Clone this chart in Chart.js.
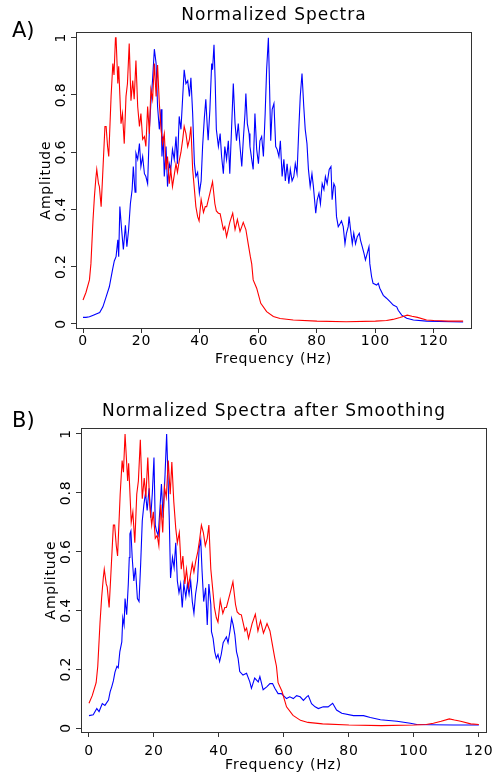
<!DOCTYPE html>
<html><head><meta charset="utf-8">
<script src="https://cdn.jsdelivr.net/npm/chart.js@4"></script>
<style>
html,body{margin:0;padding:0;background:#fff;}
#wrap{position:relative;width:496px;height:774px;overflow:hidden;background:#fff;}
.pane{position:absolute;left:0;width:496px;height:387px;}
</style></head><body>
<div id="wrap">
<div class="pane" style="top:0"><canvas id="cA" width="496" height="387"></canvas></div>
<div class="pane" style="top:387px"><canvas id="cB" width="496" height="387"></canvas></div>
</div>
<script>
// ---- data ----
const xTickValues = [0, 20, 40, 60, 80, 100, 120];
const yTickValues = [0, 0.2, 0.4, 0.6, 0.8, 1];

const redFreq = [0,1,2.2,2.7,3.4,3.9,4.4,4.7,5.3,5.6,6.2,6.7,7.5,7.9,8.4,8.8,9.6,10.2,10.6,11.1,11.3,11.9,12.2,12.6,13,13.5,14.1,14.7,15.2,15.8,16.4,17,17.5,18.1,18.7,19.3,19.8,20.4,21,21.5,22.1,22.7,23.2,23.8,24.4,25,25.5,26.1,26.7,27.2,27.8,28.4,28.9,29.5,30,30.6,31.2,31.8,32.3,32.9,33.5,34.1,34.6,35.2,35.8,36.4,36.9,37.5,38.1,38.6,39.2,39.7,40.4,41.2,41.8,42.3,43.4,44.3,45.1,45.6,46.3,46.9,47.4,48,48.5,49.1,50.2,51.2,52,52.8,53.7,54.3,54.8,55.7,56.5,57.2,57.7,58.2,59.4,60.8,62.8,65.1,67.4,71.9,80,90,100,103.8,106,108.4,110.9,112.5,114.4,117.5,120,125,130];
const redAmp = [0.084,0.11,0.154,0.21,0.36,0.445,0.51,0.54,0.49,0.48,0.41,0.515,0.69,0.69,0.62,0.585,0.795,0.91,0.87,1.0,1.0,0.84,0.90,0.80,0.70,0.735,0.63,0.795,0.84,0.98,0.78,0.85,0.785,0.92,0.76,0.69,0.735,0.645,0.655,0.62,0.76,0.665,0.82,0.785,0.91,0.795,0.905,0.77,0.68,0.63,0.665,0.54,0.585,0.49,0.54,0.48,0.52,0.56,0.53,0.57,0.60,0.645,0.69,0.665,0.62,0.645,0.69,0.54,0.47,0.41,0.375,0.36,0.435,0.39,0.41,0.41,0.457,0.497,0.42,0.395,0.387,0.385,0.36,0.33,0.34,0.305,0.355,0.387,0.33,0.365,0.323,0.34,0.355,0.33,0.28,0.237,0.21,0.154,0.125,0.072,0.043,0.026,0.019,0.014,0.01,0.008,0.01,0.012,0.016,0.023,0.031,0.027,0.023,0.014,0.012,0.01,0.01];

const blueAFreq = [0,1,2.2,3.3,4.5,5.7,6.8,7.9,9,10.1,10.7,11.3,11.9,12.2,12.6,13.2,13.8,14.5,15,15.6,16.2,16.8,17.2,17.8,18.1,18.7,19.3,19.8,20.4,21,21.5,22.1,22.7,23.2,23.8,24.4,25,25.5,26.1,26.7,27,27.4,27.8,28.4,28.9,29.5,30,30.6,31.2,31.8,32.3,32.9,33.5,34.1,34.6,35.2,35.8,36.4,36.9,37.5,38.1,38.6,39.2,39.8,40.4,40.9,41.5,42,42.5,42.8,43.4,44,44.3,44.8,45.2,45.6,46.3,46.9,47.4,48,48.5,49.1,49.7,50.2,50.8,51.4,52,52.5,53.1,53.7,54.3,54.8,55.4,55.7,56.2,56.8,57.1,57.7,58.2,58.8,59.4,60,60.5,61.1,61.7,62.3,62.8,63.4,63.7,64.2,64.7,65.3,65.9,66.4,67,67.5,68.1,68.7,69.2,69.8,70.4,70.9,71.5,72.1,72.6,73.2,73.8,74.3,74.9,75.5,76,76.6,77.1,77.7,78.3,78.8,79.6,80.1,80.7,81.2,81.8,82.4,82.9,83.5,84.2,84.8,85.2,85.8,86.2,86.7,87.3,87.9,88.4,89,89.6,90.1,90.7,91,91.5,92.1,92.6,93.2,93.8,94.5,94.9,95.5,96.1,96.6,97.2,97.8,98.1,98.7,99.2,100.4,101,101.5,102.7,103.8,105,106.1,107.3,107.8,109,110.7,113,117.5,130];
const blueAAmp = [0.023,0.023,0.025,0.03,0.035,0.04,0.06,0.095,0.13,0.19,0.22,0.235,0.294,0.235,0.41,0.33,0.26,0.345,0.27,0.33,0.42,0.47,0.55,0.46,0.597,0.575,0.63,0.55,0.585,0.525,0.515,0.49,0.68,0.77,0.855,0.96,0.91,0.76,0.68,0.75,0.585,0.655,0.515,0.62,0.48,0.56,0.54,0.61,0.575,0.655,0.56,0.725,0.68,0.795,0.888,0.84,0.85,0.795,0.86,0.735,0.56,0.515,0.53,0.457,0.50,0.62,0.72,0.785,0.69,0.642,0.75,0.91,0.888,0.975,0.85,0.68,0.62,0.665,0.585,0.525,0.62,0.575,0.64,0.525,0.68,0.84,0.70,0.64,0.70,0.62,0.55,0.64,0.735,0.805,0.70,0.665,0.62,0.575,0.54,0.735,0.61,0.56,0.64,0.655,0.585,0.735,0.888,1.0,0.875,0.64,0.75,0.77,0.62,0.61,0.585,0.64,0.515,0.575,0.50,0.56,0.49,0.54,0.50,0.515,0.56,0.525,0.68,0.795,0.875,0.76,0.68,0.63,0.54,0.48,0.525,0.48,0.387,0.434,0.457,0.42,0.49,0.47,0.515,0.49,0.54,0.55,0.434,0.49,0.48,0.375,0.34,0.35,0.36,0.34,0.28,0.317,0.34,0.375,0.33,0.28,0.317,0.28,0.305,0.317,0.293,0.27,0.247,0.224,0.247,0.27,0.21,0.165,0.142,0.136,0.142,0.125,0.1,0.09,0.078,0.066,0.06,0.048,0.031,0.02,0.014,0.01,0.007];

const blueBFreq = [0,1.3,2.4,3.1,4.1,4.9,6,6.5,7,7.5,8,8.6,9,9.5,10.1,10.4,10.8,11.1,11.6,12.1,12.4,12.6,12.9,13.3,13.8,14.3,14.9,15.4,15.9,16.4,16.9,17.4,17.9,18.5,19,19.5,20,20.4,20.8,21.3,21.8,22.3,22.8,23.4,23.9,24.3,24.7,25.1,25.7,26.2,26.7,27.2,27.7,28.2,28.7,29.2,29.8,30.3,30.8,31.3,31.8,32.3,32.8,33.4,33.9,34.4,34.8,35.3,35.9,36.4,36.9,37.5,37.7,38.2,38.7,39.2,39.7,40.2,40.7,41.3,41.8,42.3,42.8,43.4,43.9,44.4,44.9,45.4,45.9,46.4,47.4,48.5,49.5,50,51,52.1,52.6,53.6,54.7,55.7,56.5,57.2,58.2,59.2,60.8,61.8,62.9,63.9,65,66,67,67.5,68.5,69.6,70.6,72.1,73.6,75,76.2,77.8,81.4,84.5,86.6,89.7,94.8,98.9,100.9,105,112.2,120];
const blueBAmp = [0.042,0.045,0.066,0.056,0.083,0.077,0.095,0.123,0.14,0.16,0.19,0.21,0.205,0.26,0.293,0.375,0.35,0.44,0.385,0.49,0.58,0.66,0.67,0.58,0.50,0.545,0.44,0.43,0.557,0.705,0.76,0.80,0.74,0.815,0.715,0.80,0.92,0.69,0.67,0.655,0.74,0.83,0.715,0.86,1.0,0.86,0.715,0.51,0.58,0.545,0.63,0.50,0.46,0.49,0.41,0.49,0.445,0.49,0.455,0.50,0.43,0.39,0.455,0.50,0.61,0.64,0.535,0.43,0.477,0.35,0.49,0.42,0.328,0.305,0.26,0.237,0.25,0.226,0.25,0.29,0.30,0.31,0.29,0.33,0.373,0.35,0.317,0.26,0.237,0.192,0.18,0.186,0.157,0.135,0.17,0.157,0.175,0.13,0.14,0.151,0.151,0.135,0.117,0.117,0.10,0.106,0.10,0.11,0.106,0.094,0.106,0.11,0.083,0.072,0.066,0.072,0.072,0.084,0.061,0.05,0.042,0.042,0.036,0.028,0.023,0.016,0.012,0.011,0.01,0.01];

// ---- helpers ----
const FONT = '"DejaVu Sans", sans-serif';
function toXY(fs, vs, maxF) {
  const out = [];
  for (let i = 0; i < fs.length; i++) if (fs[i] <= maxF) out.push({x: fs[i], y: vs[i]});
  return out;
}
function fmtY(v) { return v === 0 ? '0' : v === 1 ? '1' : v.toFixed(1); }

function makeChart(id, cfg) {
  const H = 387;
  const deco = {
    id: 'deco_' + id,
    beforeUpdate(chart) { chart.ctx.letterSpacing = '0.8px'; },
    beforeDraw(chart) { chart.ctx.letterSpacing = '0.8px'; },
    afterDatasetsDraw(chart) {
      const a = chart.chartArea, ctx = chart.ctx;
      ctx.save();
      ctx.strokeStyle = '#333';
      ctx.lineWidth = 1;
      ctx.strokeRect(Math.round(a.left) + 0.5, Math.round(a.top) + 0.5,
                     Math.round(a.right - a.left), Math.round(a.bottom - a.top));
      ctx.restore();
    },
    afterDraw(chart) {
      const ctx = chart.ctx;
      ctx.save();
      ctx.fillStyle = '#000';
      ctx.textBaseline = 'middle';
      ctx.textAlign = 'center';
      ctx.letterSpacing = '1px';
      ctx.font = '17px ' + FONT;
      ctx.fillText(cfg.title, 274, cfg.titleY);
      ctx.textAlign = 'left';
      ctx.letterSpacing = '0px';
      ctx.font = '21px ' + FONT;
      ctx.fillText(cfg.panel, 12, cfg.panelY);
      ctx.restore();
    }
  };
  return new Chart(document.getElementById(id), {
    type: 'line',
    data: {
      datasets: [
        {data: toXY(redFreq, redAmp, cfg.maxF), borderColor: '#ff0000', borderWidth: 1.1,
         pointRadius: 0, tension: 0, fill: false},
        {data: toXY(cfg.blueF, cfg.blueV, cfg.maxF), borderColor: '#0000ff', borderWidth: 1.1,
         pointRadius: 0, tension: 0, fill: false}
      ]
    },
    options: {
      responsive: false, animation: false, events: [],
      layout: {padding: {left: 0, right: 496 - cfg.right, top: cfg.top, bottom: 0}},
      plugins: {legend: {display: false}, tooltip: {enabled: false}, title: {display: false}},
      scales: {
        x: {
          type: 'linear', min: cfg.xmin, max: cfg.xmax,
          afterBuildTicks: s => { s.ticks = xTickValues.map(v => ({value: v})); },
          afterFit: s => { s.height = H - cfg.bottom; s.paddingLeft = 0; s.paddingRight = 0; },
          grid: {display: true, drawOnChartArea: false, drawTicks: true, tickLength: 5, color: '#333', lineWidth: 1},
          border: {display: true, color: '#333', width: 1},
          ticks: {font: {family: FONT, size: 14}, color: '#000', padding: cfg.xPad,
                  maxRotation: 0, minRotation: 0, autoSkip: false, callback: v => String(v)},
          title: {display: true, text: 'Frequency (Hz)', color: '#000',
                  font: {family: FONT, size: 14}, padding: {top: 0, bottom: cfg.xTitlePad}}
        },
        y: {
          type: 'linear', min: cfg.ymin, max: cfg.ymax,
          afterBuildTicks: s => { s.ticks = yTickValues.map(v => ({value: v})); },
          afterFit: s => { s.width = cfg.left; s.paddingTop = 0; s.paddingBottom = 0; },
          grid: {display: true, drawOnChartArea: false, drawTicks: true, tickLength: 5, color: '#333', lineWidth: 1},
          border: {display: true, color: '#333', width: 1},
          ticks: {font: {family: FONT, size: 14}, color: '#000', padding: cfg.yPad,
                  minRotation: 90, maxRotation: 90, crossAlign: 'center', autoSkip: false,
                  callback: v => fmtY(v)},
          title: {display: true, text: 'Amplitude', color: '#000',
                  font: {family: FONT, size: 14}, padding: {top: cfg.yTitlePad, bottom: 0}}
        }
      }
    },
    plugins: [deco]
  });
}

makeChart('cA', {
  title: 'Normalized Spectra', titleY: 16, panel: 'A)', panelY: 32,
  left: 76, right: 471, top: 32, bottom: 328,
  xmin: -2.4, xmax: 132.7, ymin: -0.014, ymax: 1.02, maxF: 130,
  blueF: blueAFreq, blueV: blueAAmp,
  xPad: 0, xTitlePad: 19.6, yPad: -3, yTitlePad: 37.6
});
makeChart('cB', {
  title: 'Normalized Spectra after Smoothing', titleY: 24.5, panel: 'B)', panelY: 35,
  left: 81, right: 486, top: 41, bottom: 345,
  xmin: -2.46, xmax: 122.2, ymin: -0.0136, ymax: 1.0204, maxF: 120,
  blueF: blueBFreq, blueV: blueBAmp,
  xPad: 6.3, xTitlePad: 0.5, yPad: -3, yTitlePad: 42.6
});
</script>
</body></html>
